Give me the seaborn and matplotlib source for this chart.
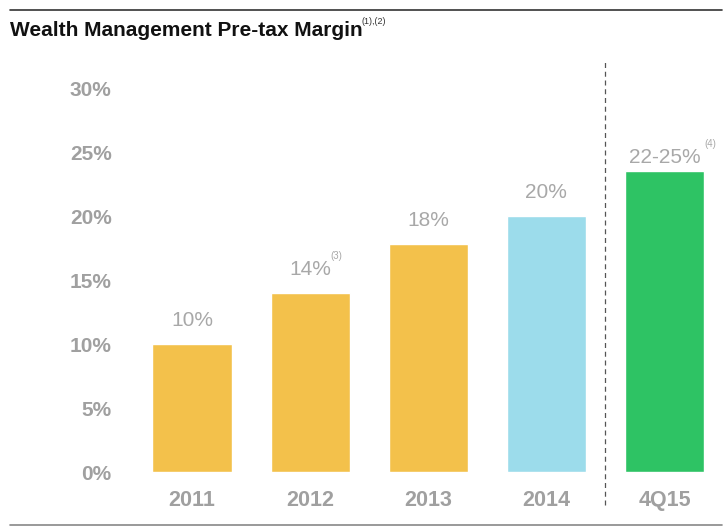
import matplotlib
matplotlib.use("Agg")
import matplotlib.pyplot as plt
import seaborn as sns
import pandas as pd

categories = ["2011", "2012", "2013", "2014", "4Q15"]
margins = [10, 14, 17.8, 20, 23.5]
value_labels = ["10%", "14%", "18%", "20%", "22-25%"]
footnotes = ["", "(3)", "", "", "(4)"]
bar_colors = ["#F3C14B", "#F3C14B", "#F3C14B", "#9CDCEB", "#2EC364"]
yticks = [0, 5, 10, 15, 20, 25, 30]

sns.set_theme(style="white")
plt.rcParams["font.family"] = ["Liberation Sans", "DejaVu Sans"]

df = pd.DataFrame({"period": categories, "margin": margins})

fig = plt.figure(figsize=(7.27, 5.29), dpi=100)
ax = fig.add_axes([120 / 727, 1 - 472 / 529, 600 / 727, 412 / 529])

sns.barplot(data=df, x="period", y="margin", hue="period", palette=bar_colors,
            width=0.67, legend=False, ax=ax, saturation=1)

ax.set_xlim(-0.61, 4.47)
ax.set_ylim(0, 32.2)
ax.set_yticks(yticks)
ax.set_yticklabels([f"{t}%" for t in yticks])
ax.set_xlabel("")
ax.set_ylabel("")
ax.tick_params(axis="y", length=0, pad=6, labelsize=15, labelcolor="#A0A0A0")
ax.tick_params(axis="x", length=0, pad=13, labelsize=15.5, labelcolor="#A0A0A0")
for lbl in ax.get_xticklabels() + ax.get_yticklabels():
    lbl.set_fontweight("bold")
sns.despine(ax=ax, left=True, bottom=True)

label_pads = [10, 10, 10, 10, 3]
for i, (v, lab, fn, p) in enumerate(zip(margins, value_labels, footnotes, label_pads)):
    ax.annotate(lab, (i, v), xytext=(0, p), textcoords="offset points",
                ha="center", va="bottom", fontsize=15, color="#A8A8A8")
    if fn:
        ax.annotate(fn, (i, v), xytext=(len(lab) * 4.6 + 1, p + 13), textcoords="offset points",
                    ha="left", va="bottom", fontsize=7, color="#A8A8A8")

# dashed separator between actuals and target
ax.vlines(3.5, -33 / 412, 1.0, transform=ax.get_xaxis_transform(),
          colors="#555555", linestyles=(0, (4, 3)), linewidth=0.9, clip_on=False)

# title and rules
fig.text(10 / 727, 1 - 30 / 529, "Wealth Management Pre-tax Margin", fontsize=15,
         fontweight="bold", color="#111111", va="center", ha="left")
fig.text(362 / 727, 1 - 21 / 529, "(1),(2)", fontsize=6.5, color="#333333",
         va="center", ha="left")
fig.add_artist(plt.Line2D([10 / 727, 722 / 727], [1 - 10 / 529, 1 - 10 / 529],
                          color="#333333", linewidth=1.2))
fig.add_artist(plt.Line2D([10 / 727, 722 / 727], [1 - 525 / 529, 1 - 525 / 529],
                          color="#888888", linewidth=1.2))

fig.savefig("out.png", dpi=100)
